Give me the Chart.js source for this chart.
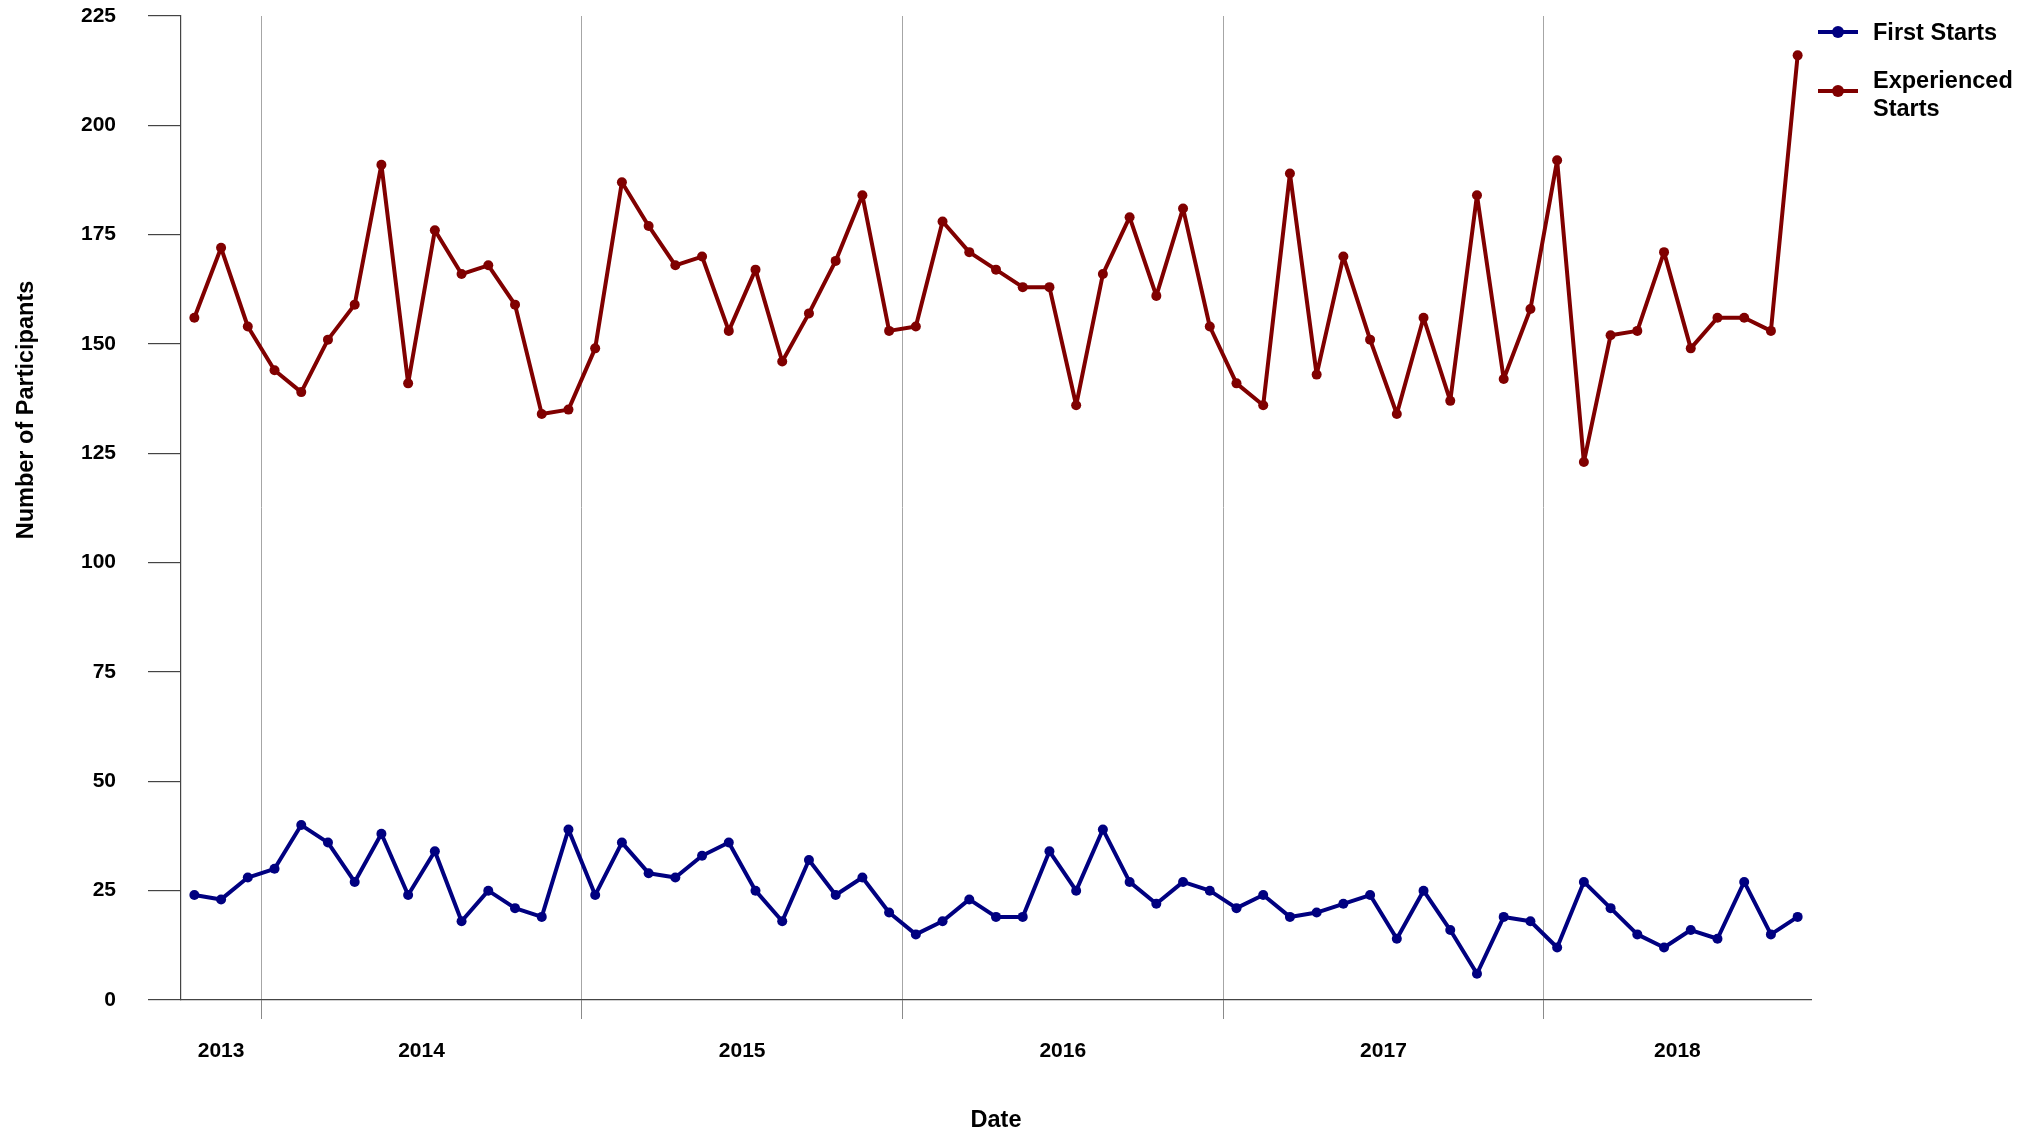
<!DOCTYPE html>
<html>
<head>
<meta charset="utf-8">
<script src="https://cdn.jsdelivr.net/npm/chart.js@4.4.0/dist/chart.umd.min.js"></script>
<style>
html, body { margin: 0; padding: 0; background: #fff; }
#wrap { position: relative; width: 2037px; height: 1132px; }
#legend { position: absolute; left: 1818px; top: 18px; font: bold 23.5px "Liberation Sans", Arial, sans-serif; color: #000; line-height: 28px; }
.item { position: relative; padding-left: 55px; }
.item + .item { margin-top: 20px; }
.swatch { position: absolute; left: 0; width: 40px; height: 4px; }
.swatch::after { content: ''; position: absolute; left: 14px; top: -4px; width: 12px; height: 12px; border-radius: 50%; background: inherit; }
</style>
</head>
<body>
<div id="wrap">
  <canvas id="chart" width="2037" height="1132"></canvas>
  <div id="legend"></div>
</div>
<script>
// monthly categories
const months = [
  '2013-10','2013-11','2013-12',
  '2014-01','2014-02','2014-03','2014-04','2014-05','2014-06','2014-07','2014-08','2014-09','2014-10','2014-11','2014-12',
  '2015-01','2015-02','2015-03','2015-04','2015-05','2015-06','2015-07','2015-08','2015-09','2015-10','2015-11','2015-12',
  '2016-01','2016-02','2016-03','2016-04','2016-05','2016-06','2016-07','2016-08','2016-09','2016-10','2016-11','2016-12',
  '2017-01','2017-02','2017-03','2017-04','2017-05','2017-06','2017-07','2017-08','2017-09','2017-10','2017-11','2017-12',
  '2018-01','2018-02','2018-03','2018-04','2018-05','2018-06','2018-07','2018-08','2018-09','2018-10'
];
const yearLabels = ['2013', '2014', '2015', '2016', '2017', '2018'];

const firstStarts = [
  24, 23, 28,
  30, 40, 36, 27, 38, 24, 34, 18, 25, 21, 19, 39,
  24, 36, 29, 28, 33, 36, 25, 18, 32, 24, 28, 20,
  15, 18, 23, 19, 19, 34, 25, 39, 27, 22, 27, 25,
  21, 24, 19, 20, 22, 24, 14, 25, 16, 6, 19, 18,
  12, 27, 21, 15, 12, 16, 14, 27, 15, 19
];
const experiencedStarts = [
  156, 172, 154,
  144, 139, 151, 159, 191, 141, 176, 166, 168, 159, 134, 135,
  149, 187, 177, 168, 170, 153, 167, 146, 157, 169, 184, 153,
  154, 178, 171, 167, 163, 163, 136, 166, 179, 161, 181, 154,
  141, 136, 189, 143, 170, 151, 134, 156, 137, 184, 142, 158,
  192, 123, 152, 153, 171, 149, 156, 156, 153, 216
];

const seriesNames = ['First Starts', 'Experienced Starts'];
const seriesColors = ['#000080', '#800000'];
const xTitle = 'Date';
const yTitle = 'Number of Participants';

const font = "'Liberation Sans', Arial, sans-serif";

// year boundaries (between Dec and Jan) and label positions (middle of each year)
const yearBounds = [];
const yearCenters = [];
yearLabels.forEach(y => {
  const idx = months.map((m, i) => m.startsWith(y) ? i : -1).filter(i => i >= 0);
  yearCenters.push((idx[0] + idx[idx.length - 1]) / 2);
  if (idx[0] > 0) yearBounds.push(idx[0] - 0.5);
});

function toPoints(values){
  return values.map((v, i) => ({ x: i, y: v }));
}

// y axis title drawn off-center like in the reference
const yTitlePlugin = {
  id: 'yTitle',
  afterDraw(chart){
    const ctx = chart.ctx;
    ctx.save();
    ctx.translate(33, 410);
    ctx.rotate(-Math.PI / 2);
    ctx.font = 'bold 23.5px ' + font;
    ctx.fillStyle = '#000';
    ctx.textAlign = 'center';
    ctx.textBaseline = 'alphabetic';
    ctx.fillText(yTitle, 0, 0);
    ctx.restore();
  }
};

const datasets = [firstStarts, experiencedStarts].map((vals, k) => ({
  label: seriesNames[k],
  data: toPoints(vals),
  borderColor: seriesColors[k],
  backgroundColor: seriesColors[k],
  pointBackgroundColor: seriesColors[k],
  pointBorderWidth: 0,
  pointRadius: 5,
  borderWidth: 4,
  borderJoinStyle: 'round',
  borderCapStyle: 'round',
  tension: 0
}));

const isBound = v => yearBounds.includes(v);

new Chart(document.getElementById('chart'), {
  type: 'line',
  data: { datasets: datasets },
  options: {
    animation: false,
    responsive: false,
    layout: { padding: { top: 16, right: 226, bottom: 0, left: 0 } },
    plugins: {
      legend: { display: false },
      tooltip: { enabled: false }
    },
    scales: {
      x: {
        type: 'linear',
        min: -0.5,
        max: months.length - 0.5,
        afterFit: scale => { scale.height = 132; },
        afterBuildTicks: scale => {
          scale.ticks = yearBounds.concat(yearCenters).sort((a, b) => a - b).map(v => ({ value: v }));
        },
        ticks: {
          autoSkip: false,
          maxRotation: 0,
          padding: 20,
          color: '#000',
          font: { family: font, size: 21, weight: 'bold' },
          callback: function(value){
            const i = yearCenters.indexOf(value);
            return i >= 0 ? yearLabels[i] : '';
          }
        },
        grid: {
          drawOnChartArea: true,
          drawTicks: true,
          tickLength: 19,
          lineWidth: 1,
          color: ctx => isBound(ctx.tick.value) ? '#a6a6a6' : 'rgba(0,0,0,0)',
          tickColor: ctx => isBound(ctx.tick.value) ? '#8a8a8a' : 'rgba(0,0,0,0)'
        },
        border: { display: true, color: '#444', width: 1.2 },
        title: {
          display: true,
          text: xTitle,
          color: '#000',
          padding: { top: 0, bottom: -3 },
          font: { family: font, size: 23.5, weight: 'bold' }
        }
      },
      y: {
        min: 0,
        max: 225,
        afterFit: scale => {
          scale.width = 181;
          // tick padding would otherwise push the plot area down
          scale.paddingTop = 0;
          scale.paddingBottom = 0;
        },
        ticks: {
          stepSize: 25,
          padding: 32,
          color: '#000',
          font: { family: font, size: 21, weight: 'bold' }
        },
        grid: {
          drawOnChartArea: false,
          drawTicks: true,
          tickLength: 33,
          tickColor: '#444',
          lineWidth: 1.2
        },
        border: { display: true, color: '#444', width: 1.2 }
      }
    }
  },
  plugins: [yTitlePlugin]
});

// html legend
const legend = document.getElementById('legend');
seriesNames.forEach((name, k) => {
  const item = document.createElement('div');
  item.className = 'item';
  const sw = document.createElement('span');
  sw.className = 'swatch';
  sw.style.background = seriesColors[k];
  sw.style.top = k === 0 ? '12px' : '23px';
  item.appendChild(sw);
  const txt = document.createElement('span');
  txt.innerHTML = k === 0 ? name : name.replace(' ', '<br>');
  item.appendChild(txt);
  legend.appendChild(item);
});
</script>
</body>
</html>
